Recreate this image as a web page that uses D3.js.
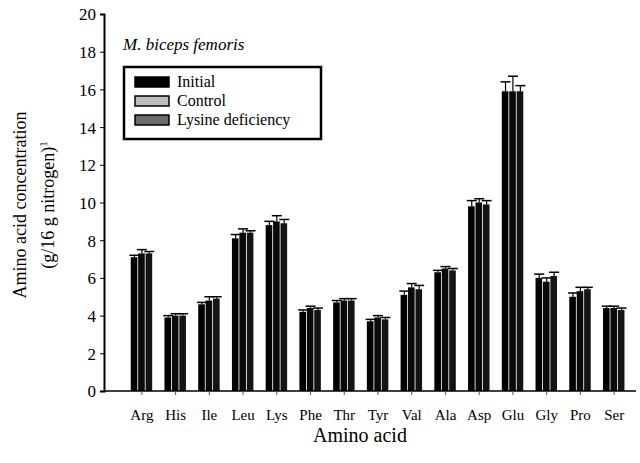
<!DOCTYPE html>
<html>
<head>
<meta charset="utf-8">
<script src="https://cdnjs.cloudflare.com/ajax/libs/d3/7.8.5/d3.min.js"></script>
<style>
  body { margin: 0; background: #fff; }
</style>
</head>
<body>
<svg id="chart" width="640" height="463"></svg>
<script>
const aminoAcids = ['Arg', 'His', 'Ile', 'Leu', 'Lys', 'Phe', 'Thr', 'Tyr', 'Val', 'Ala', 'Asp', 'Glu', 'Gly', 'Pro', 'Ser']
const initial   = [7.1, 3.9, 4.6, 8.1, 8.8, 4.2, 4.7, 3.7, 5.1, 6.3, 9.8, 15.9, 6.0, 5.0, 4.4]
const control   = [7.3, 4.0, 4.8, 8.4, 9.0, 4.4, 4.8, 3.9, 5.5, 6.5, 10.0, 15.9, 5.8, 5.3, 4.4]
const lysDef    = [7.3, 4.0, 4.9, 8.4, 8.9, 4.3, 4.8, 3.8, 5.4, 6.4, 9.9, 15.9, 6.1, 5.4, 4.3]
const errInit   = [0.1, 0.1, 0.1, 0.2, 0.2, 0.1, 0.1, 0.1, 0.2, 0.1, 0.3, 0.5, 0.2, 0.2, 0.1]
const errCtrl   = [0.2, 0.1, 0.2, 0.2, 0.3, 0.1, 0.1, 0.1, 0.2, 0.1, 0.2, 0.8, 0.2, 0.2, 0.1]
const errLys    = [0.1, 0.1, 0.1, 0.1, 0.2, 0.1, 0.1, 0.1, 0.2, 0.1, 0.2, 0.3, 0.2, 0.1, 0.1]
const seriesNames = ['Initial', 'Control', 'Lysine deficiency']
const yTicks = [0, 2, 4, 6, 8, 10, 12, 14, 16, 18, 20]

const serif = 'Liberation Serif'
const svg = d3.select('#chart').attr('font-family', serif)
const barColors = ['#000', '#0a0a0a', '#141414']
const legendColors = ['#000', '#bdbdbd', '#6a6a6a']

const x0 = d3.scaleBand()
  .domain(aminoAcids)
  .range([125, 631])
  .paddingInner(0.34)
  .paddingOuter(0.17)

const x1 = d3.scaleBand()
  .domain(seriesNames)
  .range([0, x0.bandwidth()])

const y = d3.scaleLinear()
  .domain([0, 20])
  .range([391, 14])

const data = aminoAcids.map((a, i) => ({
  name: a,
  vals: [
    { s: 'Initial', v: initial[i], e: errInit[i] },
    { s: 'Control', v: control[i], e: errCtrl[i] },
    { s: 'Lysine deficiency', v: lysDef[i], e: errLys[i] }
  ]
}))

// bars
const groups = svg.selectAll('g.grp')
  .data(data)
  .enter()
  .append('g')
    .attr('class', 'grp')
    .attr('transform', d => `translate(${x0(d.name)},0)`)

groups.selectAll('rect')
  .data(d => d.vals)
  .enter()
  .append('rect')
    .attr('x', d => x1(d.s))
    .attr('y', d => y(d.v))
    .attr('width', x1.bandwidth() - 0.8)
    .attr('height', d => y(0) - y(d.v))
    .attr('fill', (d, i) => barColors[i])

// error bars (upper only)
groups.selectAll('g.err')
  .data(d => d.vals)
  .enter()
  .append('g')
    .attr('class', 'err')
    .each(function (d) {
      const g = d3.select(this)
      const cx = x1(d.s) + x1.bandwidth() / 2
      g.append('line')
        .attr('x1', cx).attr('x2', cx)
        .attr('y1', y(d.v)).attr('y2', y(d.v + d.e))
        .attr('stroke', '#000').attr('stroke-width', 1.2)
      g.append('line')
        .attr('x1', cx - 5).attr('x2', cx + 5)
        .attr('y1', y(d.v + d.e)).attr('y2', y(d.v + d.e))
        .attr('stroke', '#000').attr('stroke-width', 1.5)
    })

// y axis
const yAxis = d3.axisLeft(y)
  .tickValues(yTicks)
  .tickSize(4)
  .tickPadding(4)

const yG = svg.append('g')
  .attr('transform', 'translate(104,0)')
  .call(yAxis)
  .attr('font-family', serif)
  .attr('font-size', 17)
yG.select('path.domain').attr('stroke', '#000').attr('stroke-width', 2)
yG.selectAll('.tick text').attr('dy', '0.35em')

// x axis
const xAxis = d3.axisBottom(x0)
  .tickSize(4)
  .tickPadding(14)
const xG = svg.append('g')
  .attr('transform', `translate(0,${y(0)})`)
  .call(xAxis)
  .attr('font-family', serif)
  .attr('font-size', 15)
xG.select('path.domain')
  .attr('d', 'M104,0H636')
  .attr('stroke', '#000')
  .attr('stroke-width', 1.5)
xG.selectAll('.tick line').attr('stroke', '#555')

// axis titles
svg.append('text')
  .attr('x', 360).attr('y', 442)
  .attr('text-anchor', 'middle')
  .attr('font-size', 20)
  .text('Amino acid')

const yTitle = svg.append('text')
  .attr('transform', 'translate(26,205) rotate(-90)')
  .attr('text-anchor', 'middle')
  .attr('font-size', 18)
yTitle.append('tspan').attr('x', 0).attr('dy', 0).text('Amino acid concentration')
yTitle.append('tspan').attr('x', 0).attr('dy', 28).text('(g/16 g nitrogen)')
yTitle.append('tspan').attr('dy', -7).attr('font-size', 11).text('1')

// subtitle
svg.append('text')
  .attr('x', 123).attr('y', 50)
  .attr('font-size', 17)
  .attr('font-style', 'italic')
  .text('M. biceps femoris')

// handmade legend
const legend = svg.append('g')
legend.append('rect')
  .attr('x', 124).attr('y', 67).attr('width', 197).attr('height', 72)
  .attr('fill', '#fff').attr('stroke', '#000').attr('stroke-width', 2.5)
seriesNames.forEach((s, i) => {
  legend.append('rect')
    .attr('x', 135).attr('y', 77 + i * 19).attr('width', 34).attr('height', 10)
    .attr('fill', legendColors[i]).attr('stroke', '#000').attr('stroke-width', 1.5)
  legend.append('text')
    .attr('x', 177).attr('y', 87 + i * 19)
    .attr('font-size', 16)
    .text(s)
})
</script>
</body>
</html>
